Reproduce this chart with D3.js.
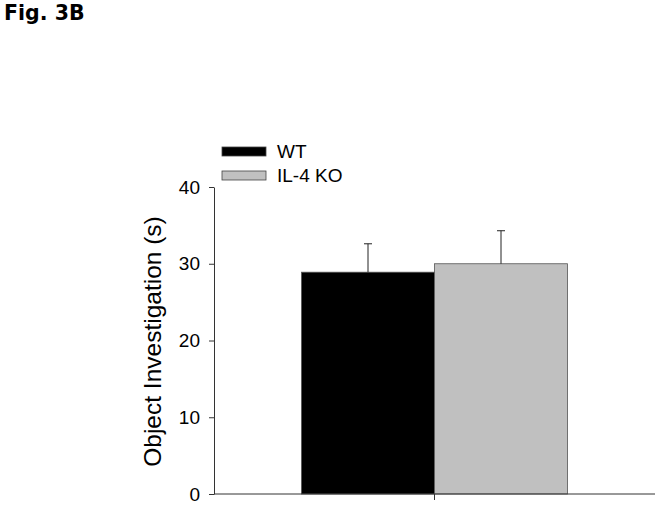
<!DOCTYPE html>
<html lang="en">
<head>
<meta charset="UTF-8">
<title>Fig. 3B</title>
<style>
  html, body { margin: 0; padding: 0; background: #fff; }
  svg { display: block; }
</style>
</head>
<body>
<div id="chart"></div>
<script src="https://d3js.org/d3.v7.min.js"></script>
<script>
const groups = ["WT", "IL-4 KO"];
const means = [28.9, 30.0];
const errors = [3.7, 4.3];
const colours = ["#000000", "#c0c0c0"];
const yTicks = [0, 10, 20, 30, 40];

const width = 662, height = 508;
const margin = {top: 187, left: 214, bottom: 14, right: 7};
const plotW = width - margin.left - margin.right;
const plotH = height - margin.top - margin.bottom;
const sans = "'Liberation Sans', Arial, sans-serif";

const svg = d3.select("#chart").append("svg")
  .attr("width", width).attr("height", height);

// figure label
svg.append("text")
  .attr("x", 4).attr("y", 20)
  .style("font-family", "'DejaVu Sans', Verdana, sans-serif")
  .style("font-weight", "bold")
  .style("font-size", "20.5px")
  .text("Fig. 3B");

const g = svg.append("g").attr("transform", `translate(${margin.left},${margin.top})`);

const y = d3.scaleLinear().domain([0, 40]).range([plotH, 0]);
const x = d3.scaleBand().domain(groups).range([87.5, 353.5]).paddingInner(0);

// bars
g.selectAll("rect.bar").data(groups).enter().append("rect")
  .attr("class", "bar")
  .attr("x", d => x(d))
  .attr("width", x.bandwidth())
  .attr("y", (d, i) => y(means[i]))
  .attr("height", (d, i) => plotH - y(means[i]))
  .attr("fill", (d, i) => colours[i])
  .attr("stroke", "#555")
  .attr("stroke-width", 0.8);

// error bars (upper only)
const errG = g.selectAll("g.err").data(groups).enter().append("g").attr("class", "err");
errG.append("line")
  .attr("x1", d => x(d) + x.bandwidth() / 2)
  .attr("x2", d => x(d) + x.bandwidth() / 2)
  .attr("y1", (d, i) => y(means[i]))
  .attr("y2", (d, i) => y(means[i] + errors[i]))
  .attr("stroke", "#222").attr("stroke-width", 1);
errG.append("line")
  .attr("x1", d => x(d) + x.bandwidth() / 2 - 4)
  .attr("x2", d => x(d) + x.bandwidth() / 2 + 4)
  .attr("y1", (d, i) => y(means[i] + errors[i]))
  .attr("y2", (d, i) => y(means[i] + errors[i]))
  .attr("stroke", "#222").attr("stroke-width", 1);

// y axis
const yAxis = g.append("g")
  .call(d3.axisLeft(y).tickValues(yTicks).tickSize(5).tickSizeOuter(0).tickPadding(9));
yAxis.select(".domain").attr("stroke", "#333");
yAxis.selectAll(".tick line").attr("stroke", "#333");
yAxis.selectAll(".tick text")
  .style("font-family", sans)
  .style("font-size", "19px")
  .attr("fill", "#000");

// x axis
const xAxis = g.append("g").attr("transform", `translate(0,${plotH})`);
xAxis.append("line").attr("x1", 0).attr("x2", plotW).attr("y1", 0).attr("y2", 0)
  .attr("stroke", "#333");
xAxis.append("line")
  .attr("x1", x(groups[1])).attr("x2", x(groups[1]))
  .attr("y1", 0).attr("y2", 6).attr("stroke", "#333");

// y label
svg.append("text")
  .attr("transform", "translate(161,341.5) rotate(-90)")
  .attr("text-anchor", "middle")
  .style("font-family", sans)
  .style("font-size", "24.5px")
  .text("Object Investigation (s)");

// legend
const legend = svg.append("g").attr("transform", "translate(222,147)");
groups.forEach((name, i) => {
  const row = legend.append("g").attr("transform", `translate(0,${i * 24})`);
  row.append("rect").attr("width", 44).attr("height", 9)
    .attr("fill", colours[i]).attr("stroke", "#444").attr("stroke-width", 0.8);
  row.append("text").attr("x", 55).attr("y", 10.5)
    .style("font-family", sans)
    .style("font-size", "19px")
    .text(name);
});
</script>
</body>
</html>
